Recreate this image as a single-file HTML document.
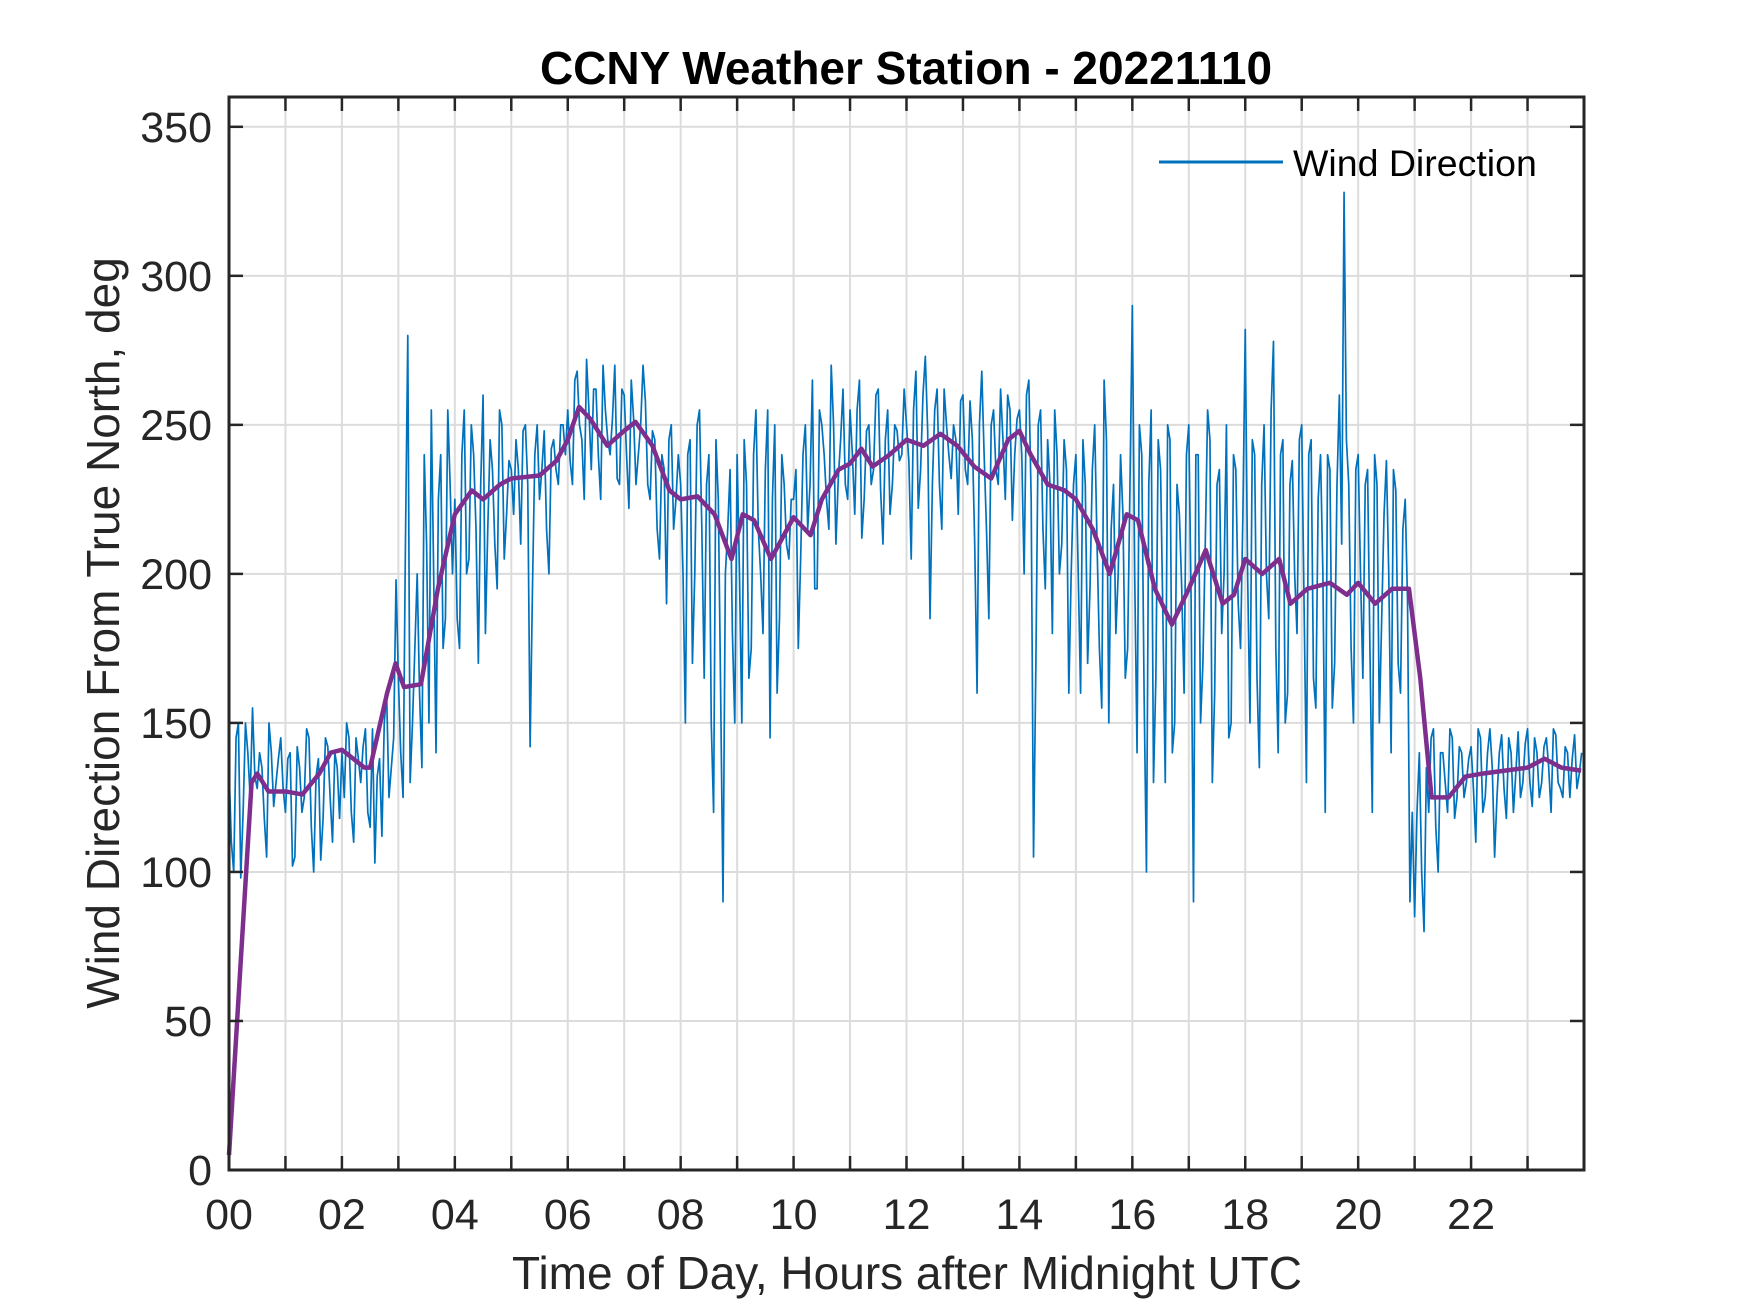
<!DOCTYPE html>
<html><head><meta charset="utf-8"><style>
body{margin:0;background:#fff}
svg{display:block;font-family:"Liberation Sans",Arial,sans-serif}
</style></head><body>
<svg id="chart" width="1750" height="1313" viewBox="0 0 1750 1313">
<rect width="1750" height="1313" fill="#fff"/>
<g id="grid"></g>
<g id="series"></g>
<g id="axes"></g>
<text x="906" y="84" text-anchor="middle" font-size="46" font-weight="bold" fill="#000">CCNY Weather Station - 20221110</text>
<text x="907" y="1289" text-anchor="middle" font-size="46" fill="#262626">Time of Day, Hours after Midnight UTC</text>
<text transform="translate(119,633) rotate(-90)" text-anchor="middle" font-size="46" fill="#262626">Wind Direction From True North, deg</text>
<g>
<line x1="1159" y1="162" x2="1283" y2="162" stroke="#0072BD" stroke-width="3"/>
<text x="1293" y="176" font-size="37.5" fill="#000">Wind Direction</text>
</g>
</svg>
<script>
const xTicks=[0,2,4,6,8,10,12,14,16,18,20,22];
const xTickLabels=["00","02","04","06","08","10","12","14","16","18","20","22"];
const yTicks=[0,50,100,150,200,250,300,350];
const rawStepMinutes=5;
const rawValues=[
135,100,150,120,140,155,128,135,105,140,130,145,
120,140,105,135,125,145,100,138,118,142,110,135,
140,150,120,145,130,148,115,103,138,150,125,145,
165,125,280,150,200,135,210,255,140,240,185,230,
225,175,255,205,240,170,260,215,235,195,250,220,
235,245,210,250,142,240,225,248,200,245,230,250,
255,230,268,245,272,235,262,225,255,240,270,230,
260,222,252,240,270,230,248,215,240,190,250,225,
230,150,245,200,255,165,240,120,225,90,215,180,
240,150,230,175,255,200,235,145,250,185,230,205,
225,175,240,215,265,195,250,225,270,210,245,230,
255,220,265,225,250,235,262,210,255,230,248,240,
250,205,268,235,273,185,255,230,262,240,250,220,
260,230,245,160,268,215,250,235,262,225,255,240,
255,200,265,105,250,215,245,180,240,210,235,200,
240,160,230,195,250,175,265,150,230,200,220,175,
290,140,240,100,255,165,235,130,245,150,220,160,
250,90,240,170,255,130,230,180,250,150,235,175,
282,150,240,135,250,185,278,140,245,160,238,180,
250,130,245,155,240,120,235,170,260,328,230,150,
240,165,235,120,230,185,238,140,228,160,225,90,
85,140,80,120,148,100,140,120,145,125,140,130,
142,110,145,125,148,105,140,128,145,120,147,130,
148,122,140,130,145,120,146,128,142,125,146,133];
const rawValuesOffset=[
110,145,98,150,125,132,140,118,150,122,138,128,
138,102,142,120,148,115,132,104,145,125,140,118,
125,145,110,138,142,120,148,132,112,160,135,198,
140,210,130,175,160,240,150,200,225,175,255,200,
185,240,200,250,215,230,180,245,210,255,205,238,
220,235,248,230,195,250,235,215,242,235,250,240,
238,265,250,225,255,262,240,270,245,252,232,262,
240,265,230,250,258,225,245,205,235,245,215,240,
200,240,170,250,215,230,150,245,160,200,235,150,
200,245,165,240,215,180,255,225,160,240,210,225,
235,205,250,230,195,255,240,215,250,232,262,225,
240,255,212,248,230,260,228,245,220,250,238,262,
238,255,222,260,248,230,262,215,250,232,245,258,
235,258,210,250,240,185,255,230,245,260,218,252,
240,260,225,170,255,195,230,255,200,245,160,230,
200,245,170,235,210,155,245,215,180,240,165,230,
200,250,160,230,130,245,185,250,140,230,195,240,
190,240,150,210,245,160,235,200,145,240,190,220,
200,245,165,230,200,255,175,240,150,230,200,245,
190,240,165,225,200,240,155,230,210,245,175,235,
200,230,175,240,150,220,200,235,170,215,190,120,
120,100,135,145,115,140,130,148,118,142,125,138,
128,148,120,140,135,125,146,118,140,133,125,143,
130,145,125,142,135,148,130,125,140,138,128,140];
const avgHours=[0,0.4,0.5,0.7,1,1.3,1.6,1.8,2,2.4,2.5,2.8,2.95,3.1,3.4,3.7,4,4.3,4.5,4.8,5,5.5,5.8,6,6.2,6.4,6.7,7,7.2,7.5,7.8,8,8.3,8.6,8.9,9.1,9.3,9.6,9.8,10,10.3,10.5,10.8,11,11.2,11.4,11.7,12,12.3,12.6,12.9,13.2,13.5,13.8,14,14.2,14.5,14.8,15,15.3,15.6,15.9,16.1,16.4,16.7,17,17.3,17.6,17.8,18,18.3,18.6,18.8,19.1,19.5,19.8,20,20.3,20.6,20.9,21.1,21.3,21.6,21.9,22.2,22.6,23,23.3,23.6,23.95];
const avgValues=[5,130,133,127,127,126,133,140,141,135,135,160,170,162,163,195,220,228,225,230,232,233,238,245,256,252,243,248,251,243,228,225,226,220,205,220,218,205,212,219,213,225,235,237,242,236,240,245,243,247,243,236,232,245,248,240,230,228,225,215,200,220,218,195,183,195,208,190,193,205,200,205,190,195,197,193,197,190,195,195,165,125,125,132,133,134,135,138,135,134];

const L=229,R=1584,T=97,B=1170,XMAX=24,YMAX=360;
const X=h=>L+(R-L)*h/XMAX;
const Y=v=>B-(B-T)*v/YMAX;
const NS="http://www.w3.org/2000/svg";
function mk(tag,attrs,parent){const e=document.createElementNS(NS,tag);for(const k in attrs)e.setAttribute(k,attrs[k]);parent.appendChild(e);return e;}
const grid=document.getElementById('grid'),axes=document.getElementById('axes'),series=document.getElementById('series');
for(let h=1;h<XMAX;h++){
  const g=mk('line',{x1:X(h),x2:X(h),y1:T,y2:B,stroke:'#dcdcdc','stroke-width':2},grid);
  
  
  for(const [a,b] of [[B,B-14],[T,T+14]]){
    const t=mk('line',{x1:X(h),x2:X(h),y1:a,y2:b,stroke:'#262626','stroke-width':2.5},axes);
    
    
  }
}
yTicks.forEach(v=>{
  if(v>0){
    const g=mk('line',{x1:L,x2:R,y1:Y(v),y2:Y(v),stroke:'#dcdcdc','stroke-width':2},grid);
    
    
  }
  for(const [a,b] of [[L,L+14],[R,R-14]]){
    const t=mk('line',{x1:a,x2:b,y1:Y(v),y2:Y(v),stroke:'#262626','stroke-width':2.5},axes);
    
    
  }
  const lb=mk('text',{x:L-17,y:Y(v)+15,'text-anchor':'end','font-size':43,fill:'#262626'},axes);
  lb.textContent=v;
  
  
});
xTicks.forEach((h,i)=>{
  const lb=mk('text',{x:X(h),y:B+59,'text-anchor':'middle','font-size':43,fill:'#262626'},axes);
  lb.textContent=xTickLabels[i];
  
  
});
const box=mk('rect',{x:L,y:T,width:R-L,height:B-T,fill:'none',stroke:'#262626','stroke-width':3},axes);


const pts=[];
rawValues.forEach((v,i)=>{
  pts.push(X(i*rawStepMinutes/60)+','+Y(v));
  if(i<rawValuesOffset.length) pts.push(X((i+0.5)*rawStepMinutes/60)+','+Y(rawValuesOffset[i]));
});
const raw=mk('polyline',{points:pts.join(' '),fill:'none',stroke:'#0072BD','stroke-width':1.7,'stroke-linejoin':'round'},series);


const avgPts=avgValues.map((v,i)=>X(avgHours[i])+','+Y(v)).join(' ');
const avg=mk('polyline',{points:avgPts,fill:'none',stroke:'#7E2F8E','stroke-width':4.5,'stroke-linejoin':'round'},series);


</script>
</body></html>
